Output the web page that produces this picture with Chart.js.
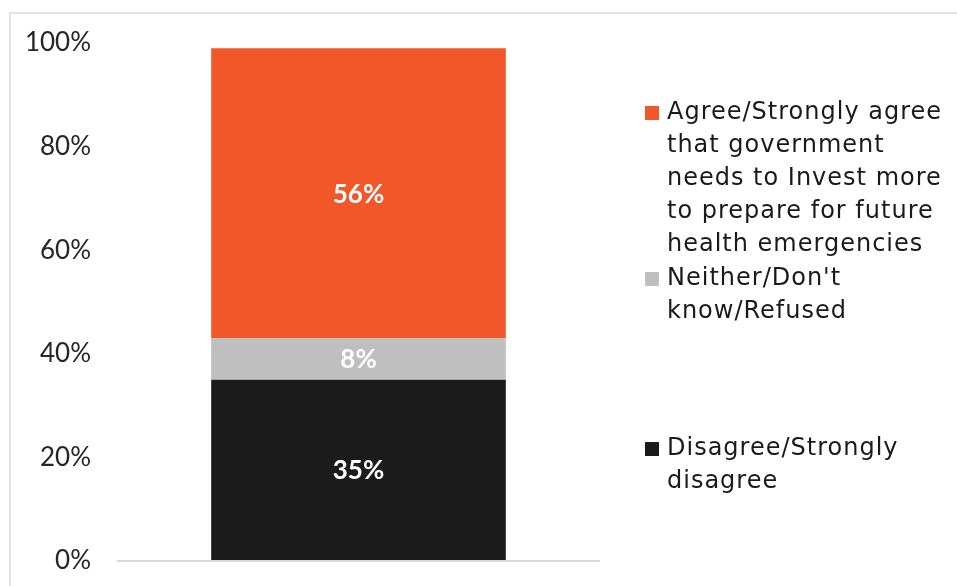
<!DOCTYPE html>
<html>
<head>
<meta charset="utf-8">
<script src="https://cdn.jsdelivr.net/npm/chart.js@4.4.1/dist/chart.umd.min.js"></script>
<style>
  body { margin: 0; background: #fff; }
  #wrap { position: relative; width: 957px; height: 586px; overflow: hidden; }
  #frame {
    position: absolute; left: 9px; top: 12px; right: -10px; bottom: -10px;
    border-left: 2px solid #e2e2e2; border-top: 2px solid #e2e2e2;
  }
  #chart { position: absolute; left: 0; top: 0; }
</style>
</head>
<body>
<div id="wrap">
  <div id="frame"></div>
  <canvas id="chart" width="957" height="586"></canvas>
</div>
<script>
// stacked from the bottom up
const categories = [''];
const seriesNames = [
  ['Disagree/Strongly', 'disagree'],
  ["Neither/Don't", 'know/Refused'],
  ['Agree/Strongly agree', 'that government', 'needs to Invest more', 'to prepare for future', 'health emergencies'],
];
const seriesValues = [[35], [8], [56]];
const seriesColors = ['#1b1b1b', '#bfbfbf', '#f2572a'];
const yTicks = [0, 20, 40, 60, 80, 100];

// white percentage in the middle of each segment
const segmentLabels = {
  id: 'segmentLabels',
  afterDatasetsDraw(chart) {
    const ctx = chart.ctx;
    ctx.save();
    ctx.fillStyle = '#ffffff';
    ctx.font = 'bold 26px Lato';
    ctx.textAlign = 'center';
    ctx.textBaseline = 'middle';
    chart.data.datasets.forEach((ds, i) => {
      chart.getDatasetMeta(i).data.forEach((bar, j) => {
        ctx.fillText(ds.data[j] + '%', bar.x, (bar.y + bar.base) / 2 + 1);
      });
    });
    ctx.restore();
  }
};

// legend on the right, top item first, each name on its own wrapped lines
const sideLegend = {
  id: 'sideLegend',
  afterDraw(chart, args, opts) {
    const ctx = chart.ctx;
    ctx.save();
    ctx.font = '24px "DejaVu Sans"';
    ctx.letterSpacing = '1px';
    ctx.textBaseline = 'middle';
    ctx.textAlign = 'left';
    opts.order.forEach((dsIndex, k) => {
      const top = opts.tops[k];
      ctx.fillStyle = seriesColors[dsIndex];
      ctx.fillRect(opts.x, top - 7, 14, 14);
      ctx.fillStyle = '#1a1a1a';
      seriesNames[dsIndex].forEach((line, n) => {
        ctx.fillText(line, opts.x + 22, top + n * opts.lineHeight);
      });
    });
    ctx.restore();
  }
};

new Chart(document.getElementById('chart'), {
  type: 'bar',
  data: {
    labels: categories,
    datasets: seriesValues.map((vals, i) => ({
      label: seriesNames[i].join(' '),
      data: vals,
      backgroundColor: seriesColors[i],
      borderWidth: 0,
      categoryPercentage: 1,
      barPercentage: 0.61,
    })),
  },
  options: {
    responsive: false,
    animation: false,
    layout: { padding: { top: 43, bottom: 25, left: 0, right: 357 } },
    plugins: {
      legend: { display: false },
      tooltip: { enabled: false },
      sideLegend: { x: 645, tops: [113, 279, 449], order: [2, 1, 0], lineHeight: 33 },
    },
    scales: {
      x: { stacked: true, display: false },
      y: {
        stacked: true,
        min: yTicks[0],
        max: yTicks[yTicks.length - 1],
        afterFit(scale) {
          scale.width = 117;
          // let layout.padding alone decide the plot's top and bottom
          scale.paddingTop = 0;
          scale.paddingBottom = 0;
        },
        afterBuildTicks(scale) { scale.ticks = yTicks.map(v => ({ value: v })); },
        border: { display: false },
        grid: {
          drawTicks: false,
          lineWidth: 2,
          color: c => (c.tick && c.tick.value === 0 ? '#d9d9d9' : 'rgba(0,0,0,0)'),
        },
        ticks: {
          padding: 26,
          color: '#262626',
          font: { family: 'Lato', size: 26 },
          callback: v => v + '%',
        },
      },
    },
  },
  plugins: [segmentLabels, sideLegend],
});
</script>
</body>
</html>
